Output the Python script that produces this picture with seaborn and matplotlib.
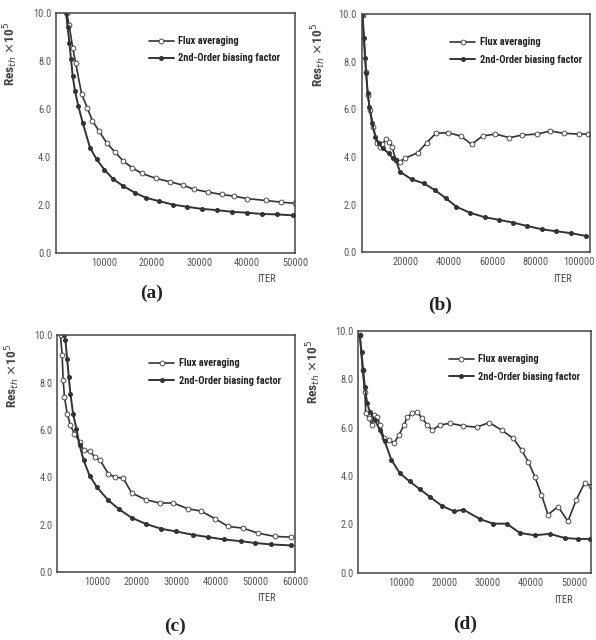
import numpy as np
import pandas as pd
import seaborn as sns
import matplotlib.pyplot as plt
from matplotlib import font_manager
from matplotlib.ticker import MultipleLocator, FixedLocator

# ---- data (x = ITER, y = Res_th x10^5) ----
a_flux_x = [2230, 2720, 3490, 4110, 5370, 6555, 7600, 9000, 10600, 12340, 14090, 15970, 17920,
            20920, 23850, 26500, 28940, 31800, 34660, 37240, 39890, 43860, 47070, 50000]
a_flux_y = [10.0, 9.5, 8.55, 7.9, 6.6, 6.04, 5.5, 5.07, 4.58, 4.19, 3.82, 3.54, 3.31,
            3.10, 2.96, 2.82, 2.64, 2.53, 2.43, 2.36, 2.26, 2.18, 2.11, 2.06]
a_bias_x = [2090, 2440, 2790, 3140, 3490, 3970, 4670, 5580, 7110, 8510, 10110, 12000, 14090,
            16530, 18830, 21620, 24410, 27340, 30470, 33610, 36750, 39890, 43030, 46170, 49650]
a_bias_y = [10.0, 9.4, 8.75, 8.06, 7.36, 6.74, 6.11, 5.42, 4.38, 3.89, 3.47, 3.06, 2.78,
            2.5, 2.29, 2.15, 2.01, 1.92, 1.83, 1.78, 1.71, 1.67, 1.62, 1.60, 1.56]

b_flux_x = [460, 2000, 2750, 3800, 5340, 6870, 8400, 9300, 11150, 12670, 13900, 15720, 17540,
            19830, 25780, 29900, 34030, 39520, 45480, 50520, 55550, 61500, 67920, 73870,
            80740, 86700, 93100, 99980, 104100]
b_flux_y = [9.96, 7.58, 6.6, 5.97, 5.27, 4.57, 4.43, 4.53, 4.74, 4.64, 4.43, 3.87, 3.80,
            3.94, 4.18, 4.60, 4.99, 5.02, 4.88, 4.53, 4.88, 4.96, 4.81, 4.92,
            4.96, 5.09, 4.99, 4.96, 4.96]
b_bias_x = [150, 920, 1530, 1985, 2750, 3510, 4730, 6260, 7790, 9620, 12370, 14200, 15730,
            17540, 22900, 28530, 33570, 38610, 43510, 49600, 56470, 63020, 69750, 76030,
            82900, 89310, 96180, 103050]
b_bias_y = [9.96, 8.98, 8.14, 7.51, 6.67, 6.11, 5.41, 4.85, 4.57, 4.36, 4.15, 3.94, 3.87,
            3.38, 3.06, 2.89, 2.61, 2.27, 1.91, 1.66, 1.47, 1.36, 1.24, 1.10,
            0.96, 0.88, 0.80, 0.68]

c_flux_x = [830, 1250, 1500, 1830, 2500, 3330, 4330, 5670, 6670, 8170, 9580, 10830, 12920,
            14580, 16670, 18750, 22330, 25830, 29330, 32900, 36250, 39830, 43150, 46830,
            50650, 54830, 58900]
c_flux_y = [10.0, 9.15, 8.1, 7.4, 6.7, 6.2, 5.85, 5.5, 5.14, 5.10, 4.86, 4.72, 4.15,
            4.01, 3.97, 3.35, 3.06, 2.92, 2.92, 2.68, 2.58, 2.26, 1.93, 1.86,
            1.65, 1.51, 1.48]
c_bias_x = [1800, 2080, 2500, 2920, 3330, 4000, 4830, 5670, 6670, 8170, 10000, 12920, 15670,
            18750, 22330, 26250, 30000, 34170, 38170, 42080, 46250, 50000, 54000, 59000]
c_bias_y = [10.0, 9.79, 9.01, 8.24, 7.54, 6.69, 6.06, 5.35, 4.72, 4.08, 3.59, 3.03, 2.65,
            2.30, 2.04, 1.83, 1.72, 1.58, 1.48, 1.38, 1.31, 1.23, 1.17, 1.13]

d_flux_x = [380, 1000, 1540, 1750, 2540, 3140, 3690, 4450, 4980, 6000, 7150, 8310, 9460,
            10620, 11380, 12530, 13690, 14840, 16000, 17150, 19000, 21300, 24370, 27460,
            30370, 33230, 35910, 37850, 39370, 40920, 42460, 43990, 46300, 48600, 50540,
            52460, 53840]
d_flux_y = [9.82, 8.38, 7.47, 6.59, 6.39, 6.11, 6.52, 6.45, 6.11, 5.56, 5.49, 5.36, 5.70,
            6.11, 6.45, 6.59, 6.63, 6.39, 6.11, 5.90, 6.11, 6.18, 6.07, 6.02,
            6.21, 5.90, 5.56, 5.08, 4.60, 3.98, 3.23, 2.40, 2.74, 2.13, 3.02,
            3.71, 3.60]
d_bias_x = [380, 770, 1150, 1540, 2080, 2690, 3850, 5000, 6150, 7690, 9620, 11920, 14230,
            16690, 19380, 22220, 24370, 28220, 31300, 34390, 37460, 40920, 44380, 47840,
            50910, 53610]
d_bias_y = [9.82, 9.12, 8.37, 7.69, 7.00, 6.66, 6.32, 5.91, 5.43, 4.67, 4.12, 3.78, 3.46,
            3.13, 2.77, 2.54, 2.61, 2.22, 2.03, 2.03, 1.65, 1.55, 1.61, 1.44,
            1.40, 1.40]

a_xticks = [10000, 20000, 30000, 40000, 50000]
b_xticks = [20000, 40000, 60000, 80000, 100000]
c_xticks = [10000, 20000, 30000, 40000, 50000, 60000]
d_xticks = [10000, 20000, 30000, 40000, 50000]
y_ticks = [0, 2, 4, 6, 8, 10]

flux_label = 'Flux averaging'
bias_label = '2nd-Order biasing factor'

sns.set_style('white')
# prefer a narrow sans if one is installed
names = {f.name for f in font_manager.fontManager.ttflist}
narrow = [n for n in ['Liberation Sans Narrow', 'DejaVu Sans Condensed', 'Roboto Condensed']
          if n in names]
plt.rcParams['font.family'] = narrow + ['Liberation Sans', 'DejaVu Sans']
leg_size = 7.5 if narrow else 6.6

ink = '#333333'
fig = plt.figure(figsize=(5.96, 6.4), dpi=100)

panels = [
    ('(a)', [0.094, 0.605, 0.401, 0.375], a_flux_x, a_flux_y, a_bias_x, a_bias_y, a_xticks, 50000, 2000, (152, 293)),
    ('(b)', [0.607, 0.606, 0.383, 0.372], b_flux_x, b_flux_y, b_bias_x, b_bias_y, b_xticks, 105000, 4000, (440, 305)),
    ('(c)', [0.096, 0.106, 0.399, 0.370], c_flux_x, c_flux_y, c_bias_x, c_bias_y, c_xticks, 60000, 2000, (175, 626)),
    ('(d)', [0.601, 0.105, 0.391, 0.378], d_flux_x, d_flux_y, d_bias_x, d_bias_y, d_xticks, 54000, 2000, (465, 624)),
]

for tag, rect, fx, fy, bx, by, xt, xmax, xminor, tpos in panels:
    ax = fig.add_axes(rect)
    flux = pd.DataFrame({'ITER': fx, 'Res': fy})
    bias = pd.DataFrame({'ITER': bx, 'Res': by})
    sns.lineplot(data=flux, x='ITER', y='Res', ax=ax, color=ink, lw=1.2, marker='o',
                 markersize=3.5, markerfacecolor='white', markeredgecolor=ink,
                 markeredgewidth=0.6, estimator=None, sort=False, label=flux_label)
    sns.lineplot(data=bias, x='ITER', y='Res', ax=ax, color=ink, lw=1.4, marker='o',
                 markersize=2.8, markerfacecolor=ink, markeredgecolor=ink,
                 estimator=None, sort=False, label=bias_label)
    ax.set_xlim(0, xmax)
    ax.set_ylim(0, 10)
    ax.xaxis.set_major_locator(FixedLocator(xt))
    ax.xaxis.set_minor_locator(MultipleLocator(xminor))
    ax.yaxis.set_major_locator(FixedLocator(y_ticks))
    ax.yaxis.set_minor_locator(MultipleLocator(0.5))
    ax.set_yticklabels([f'{v:.1f}' for v in y_ticks])
    ax.set_xticklabels([str(v) for v in xt])
    ax.tick_params(which='both', direction='in', colors=ink, labelcolor='#555555',
                   labelsize=7.5, top=False, right=False)
    ax.tick_params(which='major', length=4, width=0.8)
    ax.tick_params(which='minor', length=2, width=0.6)
    for s in ax.spines.values():
        s.set_color('#444444')
        s.set_linewidth(1.1)
    ax.set_xlabel('ITER', fontsize=7.5, color='#444444')
    ax.xaxis.set_label_coords(0.88, -0.09)
    ax.set_ylabel(r'Res$_{th}$ $\times$10$^{5}$', fontsize=9.5, fontweight='bold', color='#444444')
    ax.yaxis.set_label_coords(-0.15, 0.83)
    ax.legend(loc='upper left', bbox_to_anchor=(0.37, 0.92), frameon=False, fontsize=leg_size,
              handlelength=2.4, labelspacing=0.7, handletextpad=0.4, borderaxespad=0)
    for t in ax.get_legend().get_texts():
        t.set_fontweight('bold')
        t.set_color('#222222')
    fig.text(tpos[0] / 596, 1 - tpos[1] / 640, tag, ha='center', va='center',
             fontsize=14, fontweight='bold', family='Liberation Serif', color='#222222')

fig.savefig('out.png', dpi=100, facecolor='white')
